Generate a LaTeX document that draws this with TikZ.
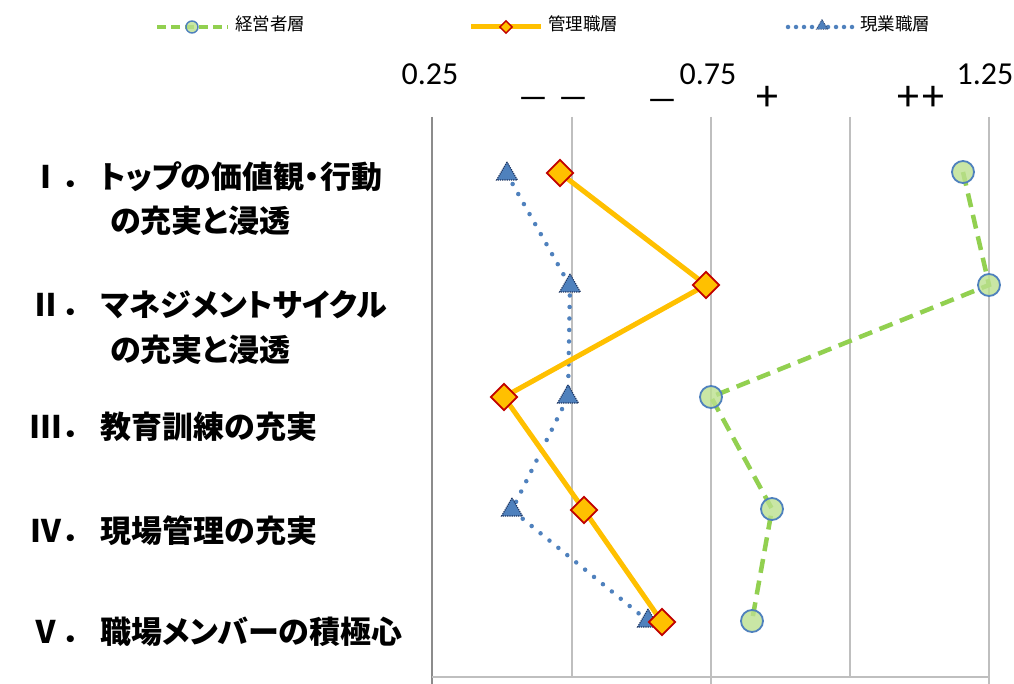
\documentclass[tikz,border=0pt]{standalone}
\usepackage{fontspec}
\usepackage{graphicx}
\setmainfont{Carlito}
\newfontfamily\jp{Noto Sans CJK JP}
\newfontfamily\jpp[RawFeature=+palt]{Noto Sans CJK JP}
\usetikzlibrary{shapes.geometric}
\definecolor{cgreen}{HTML}{92D050}
\definecolor{cgreenfill}{HTML}{BCE08F}
\definecolor{corange}{HTML}{FFC000}
\definecolor{cred}{HTML}{C00000}
\definecolor{cblue}{HTML}{4F81BD}
\definecolor{cnavy}{HTML}{1F3763}
\definecolor{cgrid}{HTML}{BFBFBF}
\definecolor{caxis}{HTML}{8C8C8C}
\tikzset{
  lab/.style={inner sep=0pt, anchor=base west, font=\fontsize{31}{31}\selectfont\bfseries\jp},
  labp/.style={lab, font=\fontsize{31}{31}\selectfont\bfseries\jpp},
  num/.style={inner sep=0pt, anchor=base, font=\fontsize{32}{32}\selectfont},
  sgn/.style={inner sep=0pt, anchor=base, font=\fontsize{44}{44}\selectfont},
  dsh/.style={inner sep=0pt, anchor=base, font=\fontsize{40}{40}\selectfont},
  leg/.style={inner sep=0pt, anchor=base west, font=\fontsize{17.5}{17.5}\selectfont\jp},
  gline/.style={cgreen, line width=4.5pt, dash pattern=on 14pt off 8pt},
  oline/.style={corange, line width=5pt, line join=round},
  bline/.style={cblue, line width=4.5pt, line cap=round, dash pattern=on 0pt off 11.5pt},
  gmark/.style={circle, draw=cblue, line width=1.8pt, fill=cgreenfill, fill opacity=0.8, minimum size=22pt, inner sep=0pt},
  omark/.style={diamond, draw=cred, line width=1.8pt, fill=corange, minimum size=27pt, inner sep=0pt, aspect=1},
  bmark/.style={regular polygon, regular polygon sides=3, draw=cnavy, densely dotted, line width=1.2pt, fill=cblue, minimum size=24pt, inner sep=0pt},
  gmarks/.style={gmark, minimum size=12pt, line width=1.4pt},
  omarks/.style={omark, minimum size=13pt, line width=1.4pt},
  bmarks/.style={bmark, minimum size=13pt, line width=0.8pt},
}
\begin{document}
\begin{tikzpicture}[x=1pt, y=-1pt]
\useasboundingbox (0,0) rectangle (1014,684);
\fill[white] (0,0) rectangle (1014,684);
% grid
\foreach \gx in {572,711,850,989} \draw[cgrid, line width=1.3pt] (\gx,117) -- (\gx,677);
\draw[caxis, line width=1.8pt] (432,117) -- (432,684);
\draw[cgrid, line width=1.8pt] (432,677) -- (990,677);
\draw[cgrid, line width=1.3pt] (711,677) -- (711,684);
\draw[cgrid, line width=1.3pt] (989,677) -- (989,684);
% axis labels
\node[num] (t1) at (430,85) {0.25};
\node[num] (t2) at (708,85) {0.75};
\node[num] (t3) at (985,85) {1.25};
\node[dsh] (s1) at (553,109) {\scalebox{1.65}[0.9]{–}\kern7pt\scalebox{1.65}[0.9]{–}};
\node[dsh] (s2) at (662,111) {\scalebox{1.65}[0.9]{–}};
\node[sgn] (s3) at (767,111) {+};
\node[sgn] (s4) at (921,111) {+\kern4pt+};
% category labels
\node[lab] (n1) at (30,189) {Ⅰ．};
\node[lab] (n2) at (30,317) {Ⅱ．};
\node[lab] (n3) at (30,438) {Ⅲ．};
\node[lab] (n4) at (30,542) {Ⅳ．};
\node[lab] (n5) at (30,643) {Ⅴ．};
\node[labp] (c1) at (100,189) {トップの価値観・行動};
\node[labp] (c1b) at (110,233) {の充実と浸透};
\node[labp] (c2) at (101,317) {マネジメントサイクル};
\node[labp] (c2b) at (110,361) {の充実と浸透};
\node[lab] (c3) at (100,438) {教育訓練の充実};
\node[lab] (c4) at (100,542) {現場管理の充実};
\node[labp] (c5) at (100,643) {職場メンバーの積極心};
% data coordinates
\coordinate (g1) at (963,172); \coordinate (g2) at (989,285); \coordinate (g3) at (711,397); \coordinate (g4) at (772,509); \coordinate (g5) at (752,621);
\coordinate (o1) at (560,173); \coordinate (o2) at (706,285); \coordinate (o3) at (504,397); \coordinate (o4) at (584,510); \coordinate (o5) at (662,622);
\coordinate (b1) at (507,174); \coordinate (b2) at (570,286); \coordinate (b3) at (568,397); \coordinate (b4) at (512,510); \coordinate (b5) at (648,621);
% blue series
\draw[bline] (b1) -- (b2) -- (b3) -- (b4) -- (b5);
\foreach \i in {1,...,5} \node[bmark] (bm\i) at (b\i) {};
% orange series
\draw[oline] (o1) -- (o2) -- (o3) -- (o4) -- (o5);
\foreach \i in {1,...,5} \node[omark] (om\i) at (o\i) {};
% green series
\draw[gline] (g1) -- (g2) -- (g3) -- (g4) -- (g5);
\foreach \i in {1,...,5} \node[gmark] (gm\i) at (g\i) {};
% legend
\coordinate (lg1) at (157,27); \coordinate (lg2) at (228,27);
\draw[gline, dash pattern=on 9pt off 5pt] (lg1) -- (lg2);
\node[gmarks] (lgm) at (192,27) {};
\node[leg] (lgt) at (235,31) {経営者層};
\coordinate (lo1) at (471,27); \coordinate (lo2) at (541,27);
\draw[oline] (lo1) -- (lo2);
\node[omarks] (lom) at (506,27) {};
\node[leg] (lot) at (548,31) {管理職層};
\coordinate (lb1) at (788,27); \coordinate (lb2) at (852,27);
\draw[bline, dash pattern=on 0pt off 8pt] (lb1) -- (lb2);
\node[bmarks] (lbm) at (822,26) {};
\node[leg] (lbt) at (860,31) {現業職層};
\end{tikzpicture}
\end{document}
